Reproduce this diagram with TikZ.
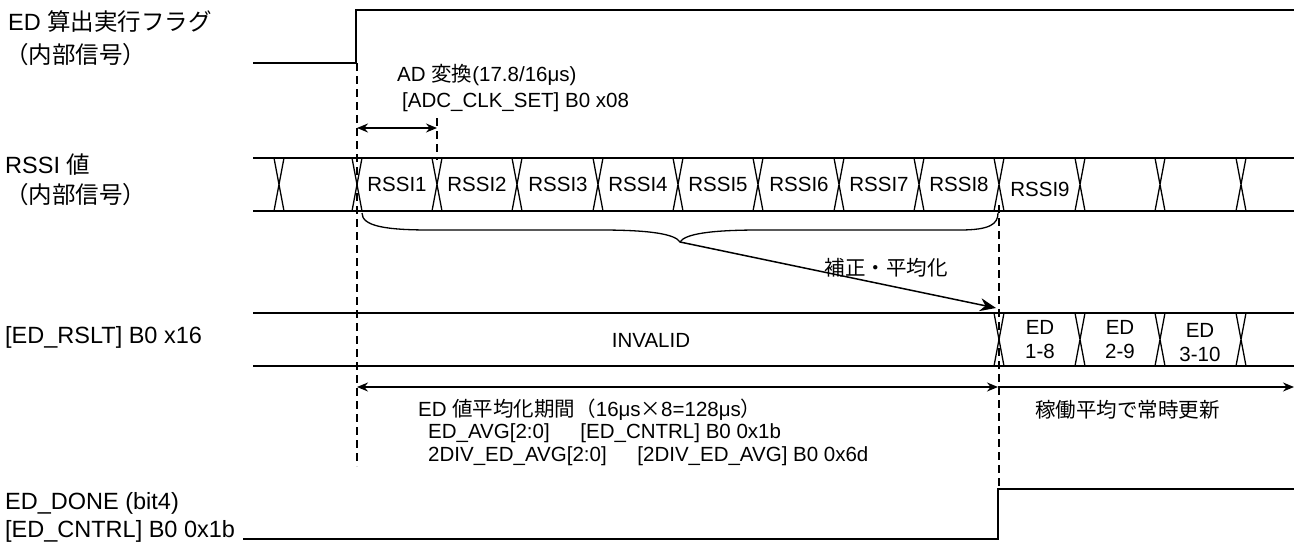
\documentclass[tikz,border=0pt]{standalone}
\usepackage{fontspec}
\setmainfont{Liberation Sans}
\newfontfamily\jp{Noto Sans CJK JP}
\usetikzlibrary{arrows.meta}
\begin{document}
\begin{tikzpicture}[x=1pt,y=-1pt,
  wave/.style={line width=1.6pt},
  xing/.style={line width=1.3pt},
  guide/.style={line width=1.3pt, dash pattern=on 8pt off 5pt},
  dimarrow/.style={line width=1.5pt, {Stealth[length=11pt,width=9pt]}-{Stealth[length=11pt,width=9pt]}},
  onearrow/.style={line width=1.5pt, -{Stealth[length=11pt,width=9pt]}},
  bigarrow/.style={line width=1.5pt, -{Stealth[length=16pt,width=13pt]}},
  lbl/.style={anchor=west, inner sep=0pt, font=\fontsize{23.5}{27}\selectfont},
  note/.style={anchor=west, inner sep=0pt, font=\fontsize{20.5}{24}\selectfont},
  txt/.style={inner sep=0pt, font=\fontsize{20.5}{24}\selectfont},
  cell/.style={inner sep=0pt, font=\fontsize{20.5}{24}\selectfont, align=center},
]
\useasboundingbox (0,0) rectangle (1294,549);
% left labels
\node[lbl] (l1a) at (8,22) {ED {\jp 算出実行フラグ}};
\node[lbl] (l1b) at (5,55) {\jp （内部信号）};
\node[lbl] (l2a) at (5,165) {RSSI {\jp 値}};
\node[lbl] (l2b) at (5,195) {\jp （内部信号）};
\node[lbl] (l3) at (5,337) {[ED\_RSLT] B0 x16};
\node[lbl] (l4a) at (5,503) {ED\_DONE (bit4)};
\node[lbl] (l4b) at (5,531) {[ED\_CNTRL] B0 0x1b};

% ED flag
\draw[wave] (253,63) -- (356,63) -- (356,10) -- (1294,10);

% buses
\foreach \yt/\yb in {158/211, 313/366} {
  \draw[wave] (253,\yt) -- (1294,\yt);
  \draw[wave] (253,\yb) -- (1294,\yb);
}
\foreach \x in {279,357,437,517,598,678,758,839,919,999,1080,1160,1241} {
  \draw[xing] (\x-5,158) -- (\x+5,211) (\x+5,158) -- (\x-5,211);
}
\foreach \x in {999,1080,1160,1241} {
  \draw[xing] (\x-5,313) -- (\x+5,366) (\x+5,313) -- (\x-5,366);
}

% guides
\draw[guide] (357,63) -- (357,466);
\draw[guide] (437,118) -- (437,160);
\draw[guide] (999,205) -- (999,489);

% AD conversion
\coordinate (adL) at (357,128);
\coordinate (adR) at (437,128);
\draw[dimarrow] (adL) -- (adR);
\node[note] (ad1) at (397,75) {AD {\jp 変換}(17.8/16μs)};
\node[note] (ad2) at (402,102) {[ADC\_CLK\_SET] B0 x08};

% RSSI cells
\foreach \n/\x in {1/397,2/477,3/558,4/638,5/718,6/799,7/879,8/959} {
  \node[cell] (r\n) at (\x,184) {RSSI\n};
}
\node[cell] (r9) at (1040,189) {RSSI9};

% brace and arrow
\coordinate (brL) at (362,213);
\coordinate (brT) at (680,242);
\coordinate (brR) at (998,213);
\draw[line width=1.3pt] (brL) .. controls (362,226) and (385,230) .. (430,230)
  -- (600,230) .. controls (650,230) and (675,234) .. (brT)
  .. controls (685,234) and (710,230) .. (760,230)
  -- (960,230) .. controls (990,230) and (998,224) .. (brR);
\coordinate (edIn) at (996,308);
\draw[bigarrow] (brT) -- (edIn);
\node[txt] (fix) at (886,268) {\jp 補正・平均化};

% ED_RSLT cells
\node[txt] (inv) at (651,340) {INVALID};
\node[cell] (e1) at (1040,340) {ED\\1-8};
\node[cell] (e2) at (1120,340) {ED\\2-9};
\node[cell] (e3) at (1200,343) {ED\\3-10};

% averaging period
\coordinate (avL) at (357,387);
\coordinate (avR) at (998,387);
\coordinate (runR) at (1294,387);
\draw[dimarrow] (avL) -- (avR);
\draw[onearrow] (avR) -- (runR);
\node[note] (avg1) at (418,410) {ED {\jp 値平均化期間（}16μs{\jp ×}8=128μs{\jp ）}};
\node[note] (avg2) at (428,433) {ED\_AVG[2:0]\hspace{1.5em}[ED\_CNTRL] B0 0x1b};
\node[note] (avg3) at (428,456) {2DIV\_ED\_AVG[2:0]\hspace{1.5em}[2DIV\_ED\_AVG] B0 0x6d};
\node[note] (run) at (1035,410) {\jp 稼働平均で常時更新};

% ED_DONE
\draw[wave] (243,539) -- (998,539) -- (998,489) -- (1294,489);
\end{tikzpicture}
\end{document}
